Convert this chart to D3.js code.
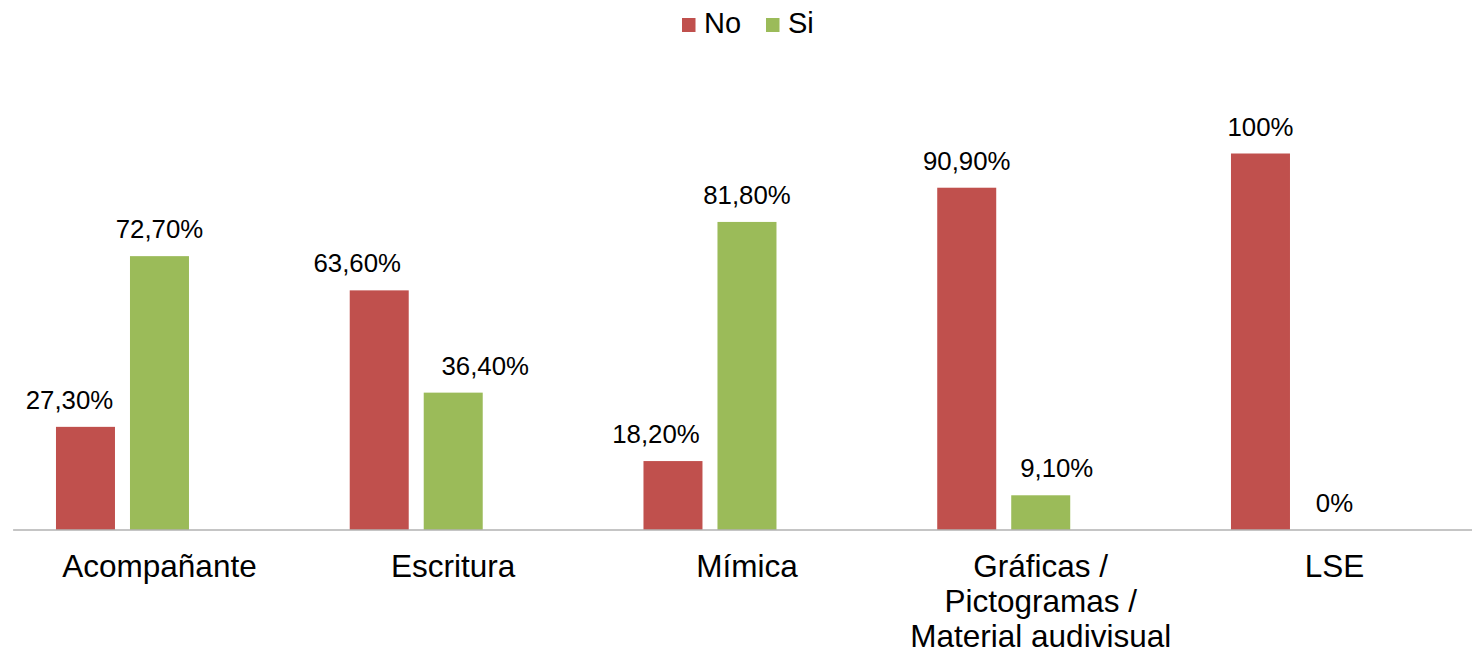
<!DOCTYPE html>
<html>
<head>
<meta charset="utf-8">
<script src="https://cdn.jsdelivr.net/npm/d3@7"></script>
<style>
  html, body { margin: 0; padding: 0; background: #fff; }
  svg { display: block; font-family: "Liberation Sans", Arial, sans-serif; }
</style>
</head>
<body>
<svg id="chart" width="1472" height="654"></svg>
<script>
// Communication resources and whether they are used (percent of respondents)
const categories = ["Acompañante", "Escritura", "Mímica", "Gráficas /\nPictogramas /\nMaterial audivisual", "LSE"];
const seriesNames = ["No", "Si"];
const noValues = [27.3, 63.6, 18.2, 90.9, 100];
const siValues = [72.7, 36.4, 81.8, 9.1, 0];

const colors = { "No": "#C0504D", "Si": "#9BBB59" };

// Horizontal nudges of individual value labels (px), keyed by series then category index
const labelNudge = {
  "No": [-16, -22, -17, 0, 0],
  "Si": [0, 32, 0, 16, 0]
};

const svg = d3.select("#chart");

const baseY = 529.5;
const topY = 153.5;

const x0 = d3.scaleBand()
  .domain(categories)
  .range([12.6, 12.6 + 293.75 * categories.length])
  .padding(0);

// Each group reserves three slots; the third one is left empty
const slots = [...seriesNames, "_"];
const groupW = 207;
const x1 = d3.scaleBand()
  .domain(slots)
  .range([(x0.bandwidth() - groupW) / 2, (x0.bandwidth() + groupW) / 2])
  .paddingInner(15 / 74)
  .paddingOuter(0);

const y = d3.scaleLinear().domain([0, 100]).range([baseY, topY]);

const fmt = v => Number.isInteger(v) ? v + "%" : v.toFixed(2).replace(".", ",") + "%";

const data = categories.map((c, i) => ({
  cat: c,
  idx: i,
  values: [
    { key: "No", value: noValues[i] },
    { key: "Si", value: siValues[i] }
  ]
}));

// Bars
const groups = svg.append("g")
  .selectAll("g")
  .data(data)
  .join("g")
  .attr("transform", d => `translate(${x0(d.cat)},0)`);

groups.selectAll("rect")
  .data(d => d.values)
  .join("rect")
  .attr("x", d => x1(d.key))
  .attr("y", d => y(d.value))
  .attr("width", x1.bandwidth())
  .attr("height", d => y(0) - y(d.value))
  .attr("fill", d => colors[d.key]);

// Value labels
groups.each(function (g) {
  d3.select(this).selectAll("text.val")
    .data(g.values)
    .join("text")
    .attr("class", "val")
    .attr("x", d => x1(d.key) + x1.bandwidth() / 2 + labelNudge[d.key][g.idx])
    .attr("y", d => y(d.value) - 18)
    .attr("text-anchor", "middle")
    .attr("font-size", "25.8px")
    .attr("fill", "#000")
    .text(d => fmt(d.value));
});

// Category axis
const axis = d3.axisBottom(x0).tickSize(0).tickSizeOuter(0).tickFormat("");
const axisG = svg.append("g")
  .attr("transform", `translate(0,${baseY})`)
  .call(axis);
axisG.select(".domain").attr("stroke", "#8c8c8c").attr("stroke-width", 1.2);

axisG.selectAll(".tick").each(function (c) {
  const t = d3.select(this).append("text")
    .attr("text-anchor", "middle")
    .attr("fill", "#000")
    .attr("font-size", "31.5px")
    .attr("y", 47.5);
  c.split("\n").forEach((line, k) => {
    t.append("tspan").attr("x", 0).attr("dy", k === 0 ? 0 : 35).text(line);
  });
});

// Legend
const legend = svg.append("g");
const legendPos = [{ key: "No", x: 682 }, { key: "Si", x: 766 }];
legendPos.forEach(p => {
  legend.append("rect")
    .attr("x", p.x).attr("y", 18)
    .attr("width", 13.5).attr("height", 14)
    .attr("fill", colors[p.key]);
  legend.append("text")
    .attr("x", p.x + 22).attr("y", 33)
    .attr("font-size", "29px")
    .attr("fill", "#000")
    .text(p.key);
});
</script>
</body>
</html>
